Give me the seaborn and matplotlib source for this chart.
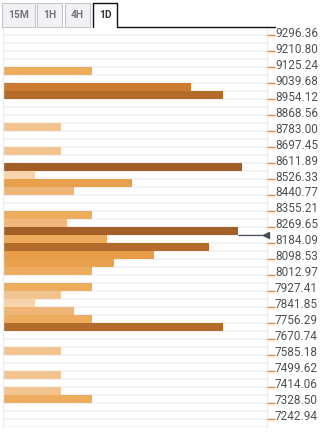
import numpy as np
import pandas as pd
import matplotlib
matplotlib.use("Agg")
import matplotlib.pyplot as plt
import matplotlib.transforms as mtransforms
from matplotlib.colors import LinearSegmentedColormap
from matplotlib.patches import Rectangle
from matplotlib.lines import Line2D
import seaborn as sns

# ---------------- data ----------------
tabs = ["15M", "1H", "4H", "1D"]
active_tab = "1D"

price_levels = [9296.36, 9210.80, 9125.24, 9039.68, 8954.12, 8868.56, 8783.00,
                8697.45, 8611.89, 8526.33, 8440.77, 8355.21, 8269.65, 8184.09,
                8098.53, 8012.97, 7927.41, 7841.85, 7756.29, 7670.74, 7585.18,
                7499.62, 7414.06, 7328.50, 7242.94]

current_price = 8227.0

# confluence strength per price row (top row first)
row_ids = list(range(49))
strength = [0, 0, 0, 0, 89, 0, 188, 220, 0, 0,
            0, 58, 0, 0, 58, 0, 239, 32, 129, 71,
            0, 0, 89, 64, 235, 104, 206, 151, 111, 89,
            0, 89, 58, 32, 71, 89, 220, 0, 0, 58,
            0, 0, 58, 0, 58, 89, 0, 0, 0]

# ---------------- style ----------------
W, H = 320, 434
sns.set_style("white")
plt.rcParams['font.family'] = ['Roboto', 'DejaVu Sans']

XMAX = 264.0
stops = [(0, '#f8dfc0'), (32, '#f6d3aa'), (58, '#f2c48f'), (64, '#f0b97b'),
         (71, '#efb576'), (89, '#eeac5f'), (104, '#edaa5d'), (111, '#e9a14d'),
         (129, '#e9a04c'), (151, '#e89c45'), (188, '#cd7a30'), (206, '#b36b2b'),
         (220, '#b36b2b'), (235, '#a35f25'), (264, '#9a5820')]
cmap = LinearSegmentedColormap.from_list("conf", [(v / XMAX, c) for v, c in stops])

df = pd.DataFrame({"row": row_ids, "strength": strength})
palette = {r: cmap(min(s, XMAX) / XMAX) for r, s in zip(row_ids, strength)}

fig = plt.figure(figsize=(W / 100, H / 100), dpi=100)
fig.patch.set_facecolor('white')

def fx(x):
    return x / W

def fy(y):
    return 1 - y / H

ax_left, ax_right, ax_top, ax_bot = 2.5, 266.5, 28.0, 426.5
ax = fig.add_axes([fx(ax_left), fy(ax_bot), (ax_right - ax_left) / W, (ax_bot - ax_top) / H])
ax.set_facecolor('white')

sns.barplot(data=df, x="strength", y="row", orient="h", hue="row", palette=palette,
            legend=False, width=1.0, errorbar=None, linewidth=0, saturation=1,
            ax=ax, zorder=2)

# layout in row units: first separator at y=35px, row height ~7.98px
row_h = (ax_bot - 35.0) / 49
y_top = -0.5 - (35.0 - ax_top) / row_h
ax.set_ylim(48.5, y_top)
ax.set_xlim(0, XMAX)

for b in np.arange(-0.5, 49.0, 1.0):
    ax.axhline(b, color='#f0f0f6', lw=1.3, zorder=0.5)

ax.set_xticks([])
ax.set_yticks([])
ax.set_xlabel("")
ax.set_ylabel("")
for s in ['top', 'bottom']:
    ax.spines[s].set_visible(False)
for s in ['left', 'right']:
    ax.spines[s].set_color('#ececf3')
    ax.spines[s].set_linewidth(1.0)

# price axis (twin) on the right
half_step = (price_levels[0] - price_levels[1]) / 2.0

def row_to_price(r):
    return price_levels[0] - half_step * (r + 0.5)

ax2 = ax.twinx()
ax2.set_ylim(row_to_price(48.5), row_to_price(y_top))
ax2.set_yticks(price_levels, [f"{p:.2f}" for p in price_levels])
ax2.tick_params(axis='y', right=True, length=5.8, width=1.0, color='#e8893a',
                pad=0.3, labelsize=8.5, labelcolor='#505050')
for s in ax2.spines.values():
    s.set_visible(False)
off = mtransforms.ScaledTranslation(0, -1.7 / 100, fig.dpi_scale_trans)
for lab in ax2.get_yticklabels():
    lab.set_va('baseline')
    lab.set_transform(lab.get_transform() + off)

# current price marker
y_cur = (price_levels[0] - current_price) / half_step - 0.5
start = strength[int(np.floor(y_cur))]
xmax = ax.get_xlim()[1]
ax.plot([start, xmax - 2.5], [y_cur, y_cur], color='#474c57', lw=0.9, zorder=3,
        solid_capstyle='butt')
ax.plot([xmax - 1.0], [y_cur], marker='<', ms=5.0, color='#474c57', mec='#474c57',
        clip_on=False, zorder=4)

# ---------------- tabs ----------------
tab_x = {"15M": (2, 35), "1H": (37, 62), "4H": (65, 90), "1D": (93, 117)}
tab_y0, tab_y1 = 2.5, 27.0
for t in tabs:
    x0, x1 = tab_x[t]
    if t == active_tab:
        fig.patches.append(Rectangle((fx(x0), fy(tab_y1)), (x1 - x0) / W, (tab_y1 - tab_y0) / H,
                                     transform=fig.transFigure, facecolor='white',
                                     edgecolor='none'))
        for xs, ys in [([x0, x0], [tab_y1, tab_y0]), ([x0, x1], [tab_y0, tab_y0]),
                       ([x1, x1], [tab_y0, tab_y1]), ([x1, 275], [tab_y1, tab_y1])]:
            fig.lines.append(Line2D([fx(v) for v in xs], [fy(v) for v in ys],
                                    transform=fig.transFigure, color='#111111', lw=1.0))
        fig.text(fx((x0 + x1) / 2), fy(15), t, ha='center', va='center',
                 fontsize=7.4, fontweight='bold', color='#333333')
    else:
        fig.patches.append(Rectangle((fx(x0), fy(tab_y1)), (x1 - x0) / W, (tab_y1 - tab_y0) / H,
                                     transform=fig.transFigure, facecolor='#f2f2f6',
                                     edgecolor='#c6c6c8', lw=0.8))
        fig.text(fx((x0 + x1) / 2), fy(15), t, ha='center', va='center',
                 fontsize=7.4, fontweight='bold', color='#777777')

fig.savefig("out.png", dpi=100, facecolor='white')
